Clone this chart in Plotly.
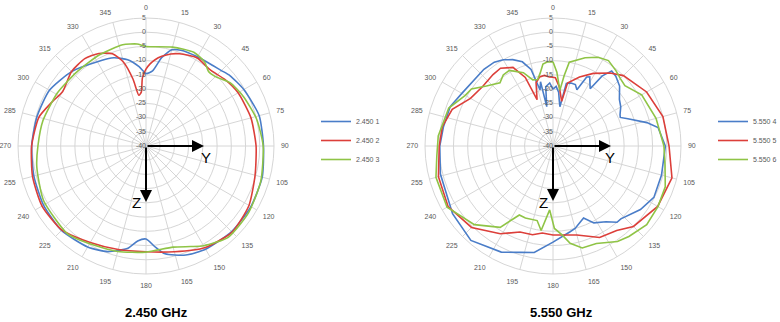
import plotly.graph_objects as go

W, H = 780, 322

# ---------------- data: 2.450 GHz ----------------
theta_24_1 = [0, 5, 10, 15, 20, 30, 40, 45, 50, 60, 75, 90, 105, 120, 135, 150, 160, 170, 175, 180,
              185, 190, 200, 210, 225, 240, 255, 270, 285, 300, 315, 330, 340, 348, 355, 360]
r_24_1 = [-14.5, -13.5, -8.5, -5.0, -4.2, -3.8, -3.2, -2.5, -1.5, -0.3, 1.2, 1.3, 2.3, 2.6, 2.6, 1.9, 0.8, -1.5, -4.5, -7.3,
          -6.5, -3.5, -0.5, 1.0, 2.0, 1.6, 0.8, 0.2, -0.3, -0.8, -3.0, -5.8, -7.0, -9.0, -12.0, -14.5]

theta_24_2 = [0, 3, 6, 10, 15, 20, 30, 40, 50, 60, 75, 90, 105, 120, 135, 150, 165, 180, 195, 210,
              225, 240, 255, 270, 285, 295, 303, 315, 325, 333, 340, 345, 349, 352, 355, 357, 360]
r_24_2 = [-13.0, -11.0, -9.5, -8.0, -6.5, -5.5, -4.2, -5.0, -3.7, -2.6, -1.8, -1.3, -0.3, 1.8, 2.8, 1.3, -1.5, -2.8, -2.3, -0.8,
          1.8, 2.2, 1.3, 0.2, -1.0, -3.5, -5.0, -3.0, -2.5, -3.5, -5.5, -9.5, -16.0, -22.0, -21.0, -16.0, -13.0]

theta_24_3 = [0, 15, 27, 35, 40, 45, 53, 63, 76, 90, 107, 123, 138, 150, 156, 165, 180, 195, 211, 222,
              242, 259, 270, 284, 301, 317, 333, 347, 355, 360]
r_24_3 = [-5.0, -4.0, -3.0, -4.0, -5.8, -5.5, -3.0, -1.6, 0.0, 1.2, 2.2, 3.0, 3.2, 0.5, -1.3, -3.2, -2.7, -1.6, -0.2, 1.4,
          0.8, -0.9, -2.0, -2.7, -3.7, -4.4, -4.0, -3.5, -4.0, -5.0]

# ---------------- data: 5.550 GHz ----------------
theta_55_4 = [0, 3, 6, 8, 10, 12, 16, 20, 23, 26, 28, 33, 35, 38, 42, 48, 55, 60, 65, 67,
              70, 76, 80, 90, 105, 117, 126, 137, 140, 145, 152, 157, 165, 169, 180, 190, 197, 206, 221, 236,
              256, 270, 280, 291, 300, 318, 325, 330, 335, 340, 344, 347, 349, 351, 353, 357, 360]
r_55_4 = [-20.0, -19.0, -21.0, -24.0, -26.0, -17.5, -17.0, -17.0, -18.5, -13.0, -12.5, -16.0, -10.0, -6.5, -7.0, -8.5, -11.5, -12.5, -14.0, -14.3,
          -12.0, -6.0, -2.5, -0.5, -0.5, -0.2, -2.0, -5.0, -5.0, -7.5, -9.4, -12.5, -10.0, -9.2, -6.2, -2.0, -0.9, 1.5, 4.0, 2.6,
          0.8, -0.2, -0.9, -1.3, -3.0, -3.7, -4.0, -5.0, -6.5, -8.5, -12.0, -19.8, -17.0, -26.0, -19.0, -17.8, -20.0]

theta_55_5 = [0, 2, 6, 11, 13, 21, 29, 38, 45, 60, 75, 90, 105, 120, 135, 143, 153, 165, 180, 187,
              193, 201, 211, 225, 240, 255, 270, 280, 290, 300, 310, 320, 326, 333, 338, 341, 345, 349, 353, 357, 360]
r_55_5 = [-15.8, -16.0, -19.0, -24.0, -17.3, -14.0, -10.8, -7.4, -5.0, -2.0, 0.0, 0.8, 3.3, 2.5, 0.0, -2.8, -3.9, -7.6, -8.7, -9.2,
          -8.0, -7.6, -4.0, 0.5, 2.6, 1.7, 0.0, -0.5, -2.3, -6.5, -7.6, -7.2, -7.0, -9.0, -14.0, -22.8, -17.0, -15.3, -15.0, -15.7, -15.8]

theta_55_6 = [0, 3, 7, 9, 11, 20, 27, 33, 40, 45, 50, 60, 75, 90, 100, 110, 120, 130, 140, 146,
              156, 164, 170, 174, 179, 183, 188, 192, 201, 206, 213, 225, 240, 255, 265, 275, 290, 300, 305, 312,
              320, 325, 330, 338, 343, 347, 350, 353, 356, 360]
r_55_6 = [-10.4, -14.0, -20.3, -15.0, -10.0, -7.0, -5.0, -4.2, -5.5, -6.5, -7.0, -4.0, -2.5, -1.0, 0.0, 2.0, 2.6, 3.0, 1.5, 0.5,
          -2.5, -2.7, -5.3, -8.5, -11.0, -17.5, -10.0, -13.2, -12.9, -13.0, -5.9, -0.9, 3.0, 2.6, 1.0, 0.5, -1.0, -4.4, -5.0, -8.5,
          -11.0, -9.5, -9.3, -12.2, -15.7, -16.0, -14.0, -11.0, -10.4, -10.4]

legend_names_24 = ["2.450 1", "2.450 2", "2.450 3"]
legend_names_55 = ["5.550 4", "5.550 5", "5.550 6"]
titles = ["2.450 GHz", "5.550 GHz"]
radial_ticks = [-40, -35, -30, -25, -20, -15, -10, -5, 0, 5]
angle_ticks = list(range(0, 360, 15))

colors = ["#4a7dc8", "#dc3f3a", "#8fc446"]
grid = "#d6d6d6"
label_col = "#595959"
FONT = "Liberation Sans"

fig = go.Figure()

series_24 = [(theta_24_1, r_24_1), (theta_24_2, r_24_2), (theta_24_3, r_24_3)]
series_55 = [(theta_55_4, r_55_4), (theta_55_5, r_55_5), (theta_55_6, r_55_6)]

for i, (t, r) in enumerate(series_24):
    fig.add_trace(go.Scatterpolar(theta=t, r=r, mode="lines", name=legend_names_24[i],
                                  line=dict(color=colors[i], width=1.6, shape="spline", smoothing=0.6),
                                  subplot="polar", legend="legend"))
for i, (t, r) in enumerate(series_55):
    fig.add_trace(go.Scatterpolar(theta=t, r=r, mode="lines", name=legend_names_55[i],
                                  line=dict(color=colors[i], width=1.6),
                                  subplot="polar2", legend="legend2"))

# radial value labels along the 0 degree spoke
for sp in ["polar", "polar2"]:
    fig.add_trace(go.Scatterpolar(theta=[0] * len(radial_ticks), r=radial_ticks, mode="text",
                                  text=[str(v) for v in radial_ticks], textposition="middle left",
                                  textfont=dict(size=7, color=label_col, family=FONT),
                                  showlegend=False, hoverinfo="skip", subplot=sp))


def polar_layout(x0, x1):
    return dict(
        domain=dict(x=[x0 / W, x1 / W], y=[1 - 274 / H, 1 - 18 / H]),
        bgcolor="white",
        angularaxis=dict(rotation=90, direction="clockwise", tickmode="array",
                         tickvals=angle_ticks, ticktext=[str(a) for a in angle_ticks],
                         showline=True, linecolor=grid, linewidth=1, gridcolor=grid, gridwidth=0.8,
                         ticks="outside", ticklen=5, tickcolor="rgba(0,0,0,0)",
                         tickfont=dict(size=7, color=label_col, family=FONT)),
        radialaxis=dict(range=[-40, 5], dtick=5, showticklabels=False, showline=False,
                        ticks="", gridcolor=grid, gridwidth=0.8),
    )


legend_common = dict(xanchor="left", yanchor="top",
                     font=dict(size=7, color=label_col, family=FONT), tracegroupgap=0,
                     itemwidth=30, bgcolor="rgba(0,0,0,0)")

fig.update_layout(
    width=W, height=H, margin=dict(l=0, r=0, t=0, b=0, autoexpand=False),
    paper_bgcolor="white", plot_bgcolor="white",
    font=dict(family=FONT),
    polar=polar_layout(18, 274),
    polar2=polar_layout(425, 681),
    legend=dict(x=316 / W, y=1 - 107 / H, **legend_common),
    legend2=dict(x=713 / W, y=1 - 107 / H, **legend_common),
    showlegend=True,
)

annots = []
# axis arrows (Y to the right, Z downward) for both charts
for cx, ylen, zlen, ylab, zlab in [(146, 58, 56, (206, 157), (136, 202)),
                                   (553, 58, 55, (610, 157), (543, 202))]:
    cy = 146
    annots.append(dict(x=(cx + ylen) / W, y=1 - cy / H, xref="paper", yref="paper",
                       ax=-ylen, ay=0, text="", showarrow=True, arrowhead=2,
                       arrowsize=1.2, arrowwidth=2, arrowcolor="black"))
    annots.append(dict(x=cx / W, y=1 - (cy + zlen) / H, xref="paper", yref="paper",
                       ax=0, ay=-zlen, text="", showarrow=True, arrowhead=2,
                       arrowsize=1.2, arrowwidth=2, arrowcolor="black"))
    annots.append(dict(x=ylab[0] / W, y=1 - ylab[1] / H, xref="paper", yref="paper", text="Y",
                       xanchor="center", yanchor="middle",
                       showarrow=False, font=dict(size=15, color="black", family=FONT)))
    annots.append(dict(x=zlab[0] / W, y=1 - zlab[1] / H, xref="paper", yref="paper", text="Z",
                       xanchor="center", yanchor="middle",
                       showarrow=False, font=dict(size=15, color="black", family=FONT)))

for tx, txt in [(156, titles[0]), (561, titles[1])]:
    annots.append(dict(x=tx / W, y=1 - 312 / H, xref="paper", yref="paper", text="<b>%s</b>" % txt,
                       xanchor="center", yanchor="middle",
                       showarrow=False, font=dict(size=13, color="black", family=FONT)))

fig.update_layout(annotations=annots)

fig.write_html("out.html")
